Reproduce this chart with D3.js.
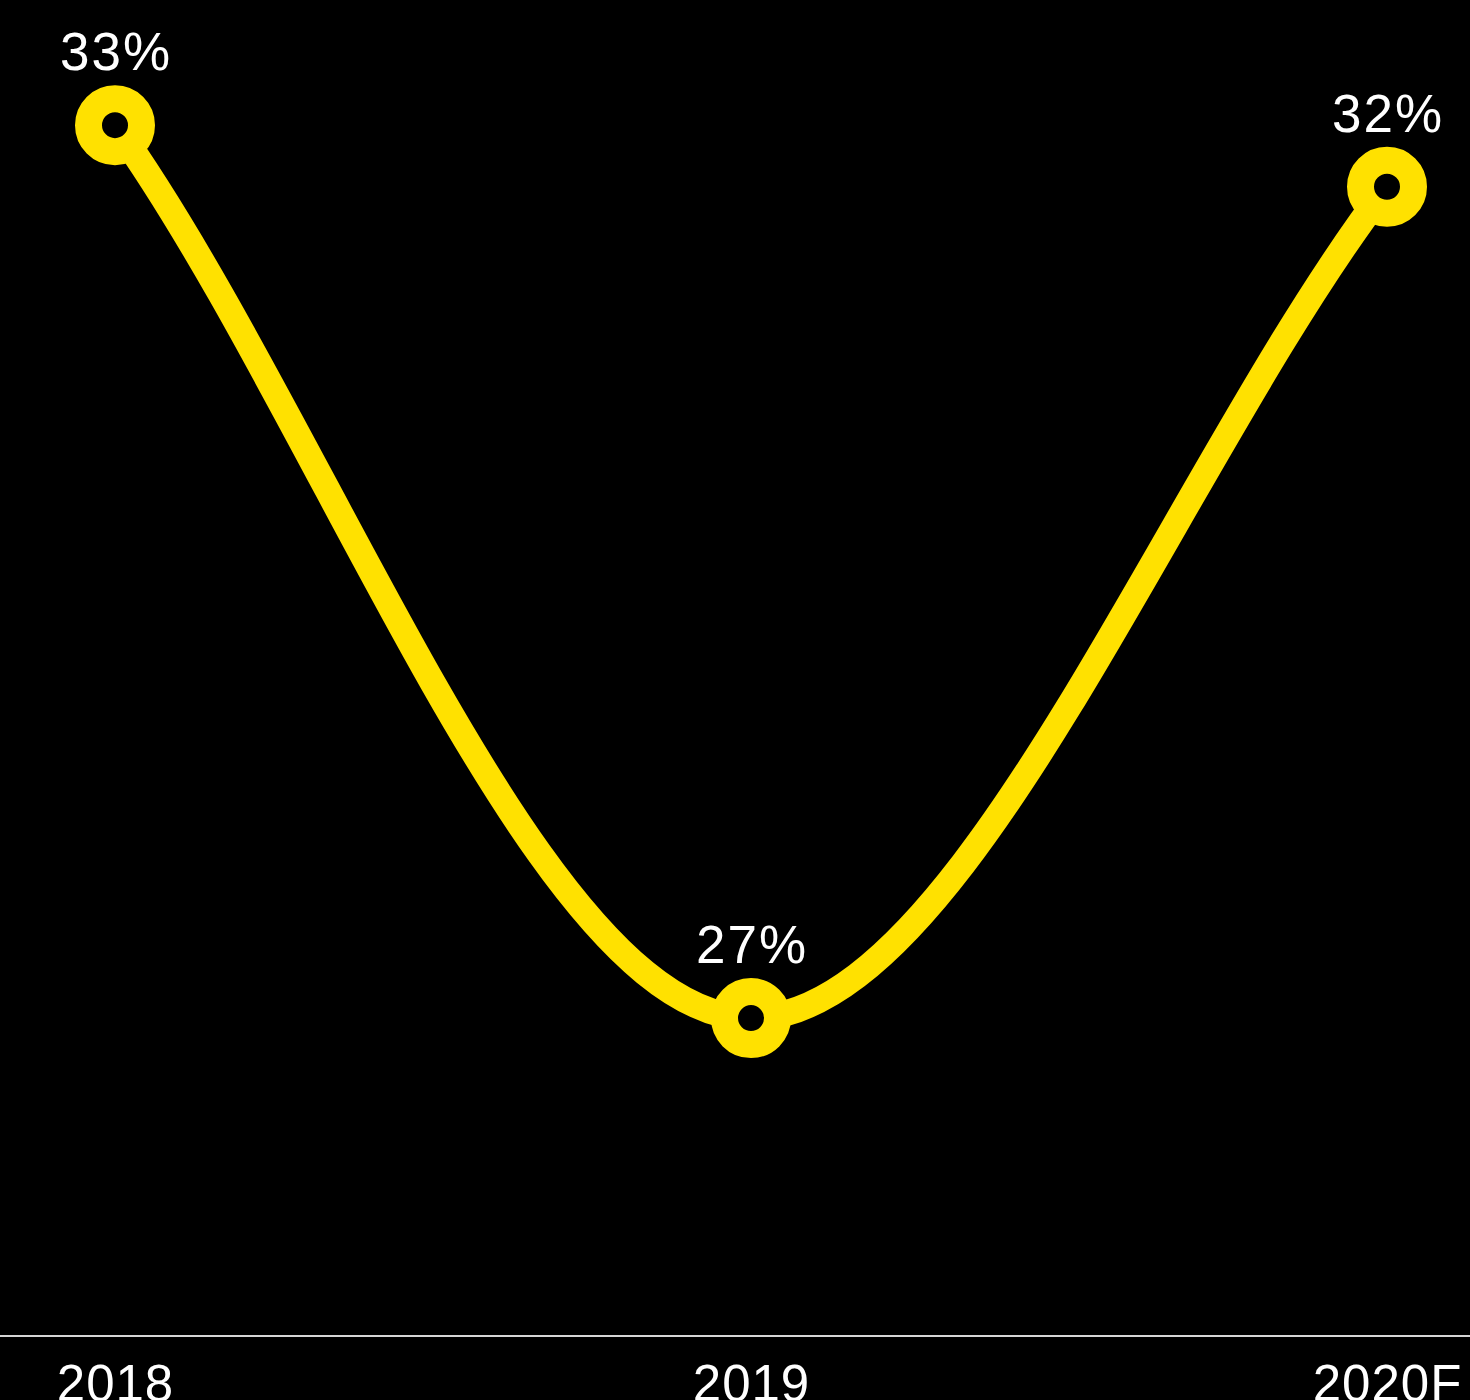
<!DOCTYPE html>
<html>
<head>
<meta charset="utf-8">
<script src="https://cdn.jsdelivr.net/npm/d3@7"></script>
<style>
  html, body { margin: 0; padding: 0; background: #000; }
  svg { display: block; }
  text { font-family: "Liberation Sans", Arial, Helvetica, sans-serif; fill: #fff; }
</style>
</head>
<body>
<svg id="chart"></svg>
<script>
// Share by year (2020 is a forecast)
const years = ["2018", "2019", "2020F"];
const shares = [32.8, 27.0, 32.4];

const width = 1470, height = 1400;
const accent = "#FFE100";

// Monotone cubic curve whose end tangents follow the adjacent secant
// (interior tangents: averaged secants, flattened at local extrema).
function MonotoneSecant(context) { this._context = context; }
MonotoneSecant.prototype = {
  areaStart() { this._line = 0; },
  areaEnd() { this._line = NaN; },
  lineStart() { this._xs = []; this._ys = []; },
  point(x, y) { this._xs.push(+x); this._ys.push(+y); },
  lineEnd() {
    const xs = this._xs, ys = this._ys, n = xs.length, ctx = this._context;
    if (!n) return;
    if (this._line || (this._line !== 0 && n === 1)) ctx.lineTo(xs[0], ys[0]);
    else ctx.moveTo(xs[0], ys[0]);
    if (n === 2) ctx.lineTo(xs[1], ys[1]);
    if (n > 2) {
      const d = [], m = new Array(n);
      for (let i = 0; i < n - 1; i++) d.push((ys[i + 1] - ys[i]) / (xs[i + 1] - xs[i]));
      m[0] = d[0];
      m[n - 1] = d[n - 2];
      for (let i = 1; i < n - 1; i++) {
        m[i] = (d[i - 1] * d[i] <= 0) ? 0 : (d[i - 1] + d[i]) / 2;
      }
      for (let i = 0; i < n - 1; i++) {
        if (d[i] === 0) { m[i] = m[i + 1] = 0; continue; }
        const a = m[i] / d[i], b = m[i + 1] / d[i], s = a * a + b * b;
        if (s > 9) { const t = 3 / Math.sqrt(s); m[i] = t * a * d[i]; m[i + 1] = t * b * d[i]; }
      }
      for (let i = 0; i < n - 1; i++) {
        const dx = (xs[i + 1] - xs[i]) / 3;
        ctx.bezierCurveTo(xs[i] + dx, ys[i] + dx * m[i], xs[i + 1] - dx, ys[i + 1] - dx * m[i + 1], xs[i + 1], ys[i + 1]);
      }
    }
    if (this._line || (this._line !== 0 && n === 1)) ctx.closePath();
    this._line = 1 - this._line;
  }
};
const curveMonotoneSecant = context => new MonotoneSecant(context);

const svg = d3.select("#chart").attr("width", width).attr("height", height);
svg.append("rect").attr("width", width).attr("height", height).attr("fill", "#000");

const x = d3.scalePoint().domain(years).range([115, 1387]).padding(0);
const y = d3.scaleLinear().domain([25, 33.6]).range([1326, 2]);
const baselineY = 1336;

const data = years.map((yr, i) => ({ year: yr, value: shares[i] }));

// Baseline across the full width
svg.append("line")
  .attr("x1", 0).attr("x2", width)
  .attr("y1", baselineY).attr("y2", baselineY)
  .attr("stroke", "#d4d4d4").attr("stroke-width", 2);

// Year labels
const xAxis = d3.axisBottom(x).tickSize(0).tickPadding(0);
const gx = svg.append("g").attr("transform", `translate(0,${baselineY})`).call(xAxis);
gx.select(".domain").remove();
gx.selectAll("text")
  .attr("dy", null)
  .attr("y", 65)
  .attr("font-size", 51)
  .attr("fill", "#fff")
  .style("letter-spacing", "1px")
  .style("font-family", "'Liberation Sans', Arial, sans-serif");

// Smoothed line
const line = d3.line()
  .x(d => x(d.year))
  .y(d => y(d.value))
  .curve(curveMonotoneSecant);

svg.append("path")
  .datum(data)
  .attr("d", line)
  .attr("fill", "none")
  .attr("stroke", accent)
  .attr("stroke-width", 26)
  .attr("stroke-linecap", "round");

// Ring markers
svg.selectAll("circle.marker")
  .data(data)
  .join("circle")
  .attr("class", "marker")
  .attr("cx", d => x(d.year))
  .attr("cy", d => y(d.value))
  .attr("r", 26.5)
  .attr("fill", "#000")
  .attr("stroke", accent)
  .attr("stroke-width", 27);

// Value labels
const fmt = d3.format(".0f");
svg.selectAll("text.value")
  .data(data)
  .join("text")
  .attr("class", "value")
  .attr("x", d => x(d.year) + 1)
  .attr("y", d => y(d.value) - 55)
  .attr("text-anchor", "middle")
  .attr("font-size", 53)
  .style("letter-spacing", "2px")
  .text(d => fmt(d.value) + "%");
</script>
</body>
</html>
